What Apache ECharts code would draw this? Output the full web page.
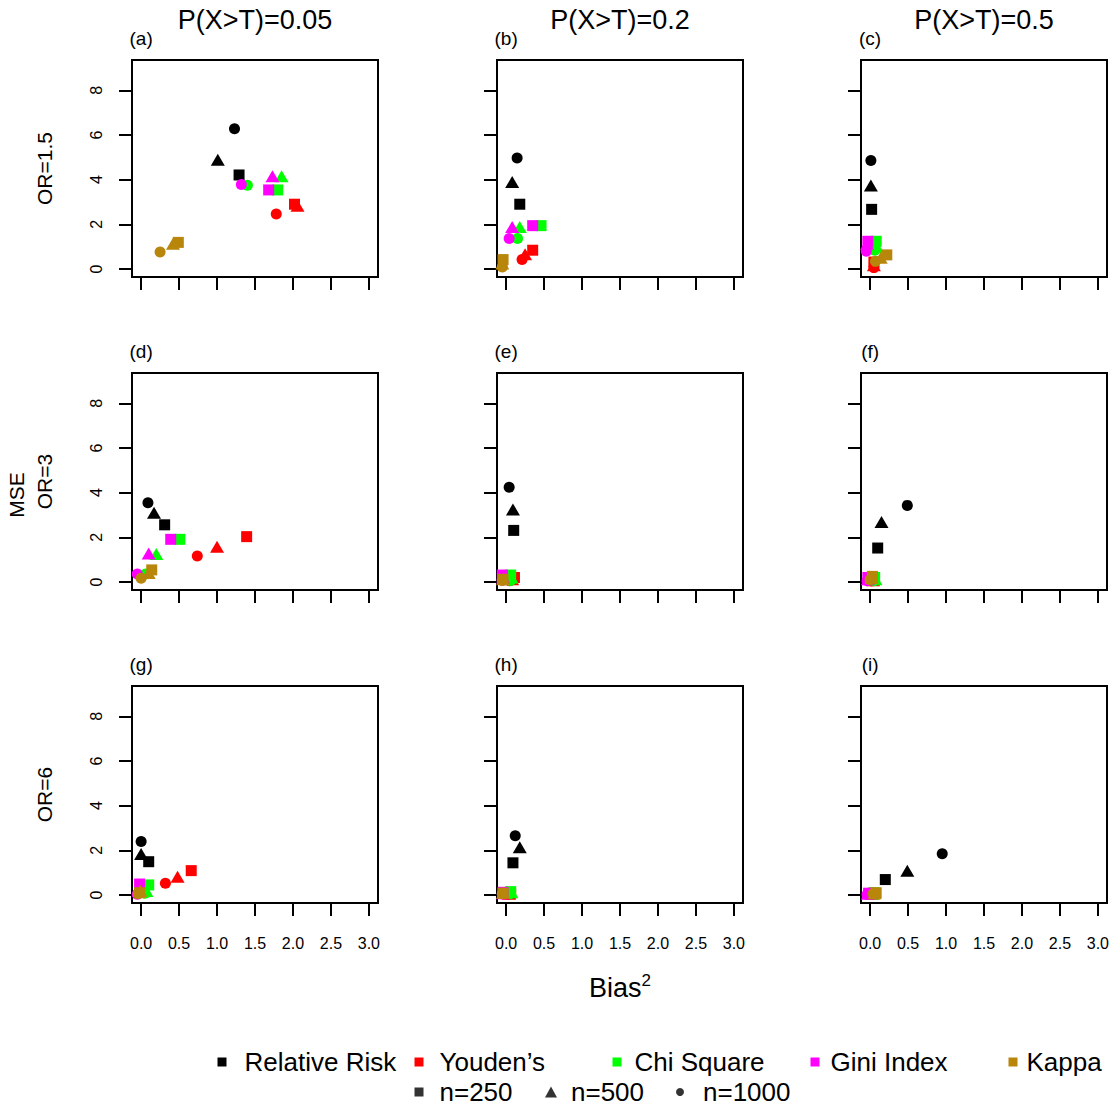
<!DOCTYPE html>
<html>
<head>
<meta charset="utf-8">
<script src="https://cdn.jsdelivr.net/npm/echarts@6/dist/echarts.min.js"></script>
<style>
  html, body { margin: 0; padding: 0; background: #fff; }
  #main { width: 1113px; height: 1108px; }
</style>
</head>
<body>
<div id="main"></div>
<script>
// labels
const colTitles = ['P(X>T)=0.05', 'P(X>T)=0.2', 'P(X>T)=0.5'];
const rowTitles = ['OR=1.5', 'OR=3', 'OR=6'];
const panelTags = ['(a)', '(b)', '(c)', '(d)', '(e)', '(f)', '(g)', '(h)', '(i)'];
const xTicks = [0, 0.5, 1, 1.5, 2, 2.5, 3];
const yTicks = [0, 2, 4, 6, 8];
const methods = ['Relative Risk', 'Youden\u2019s', 'Chi Square', 'Gini Index', 'Kappa'];
const sampleSizes = ['n=250', 'n=500', 'n=1000'];

// Bias^2 and MSE, one row per panel (a..i), each row = [n=250, n=500, n=1000]
const rrBias = [[1.29, 1.01, 1.23], [0.18, 0.08, 0.145], [0.02, 0.01, 0.01],
                [0.31, 0.17, 0.09], [0.10, 0.09, 0.04], [0.10, 0.15, 0.49],
                [0.10, 0.00, 0.00], [0.09, 0.18, 0.12], [0.20, 0.49, 0.95]];
const rrMse = [[4.21, 4.89, 6.28], [2.90, 3.89, 4.97], [2.67, 3.74, 4.86],
               [2.56, 3.10, 3.55], [2.31, 3.25, 4.24], [1.52, 2.69, 3.43],
               [1.49, 1.84, 2.39], [1.44, 2.14, 2.65], [0.69, 1.09, 1.85]];

const youdenBias = [[2.02, 2.06, 1.78], [0.35, 0.25, 0.21], [0.05, 0.05, 0.05],
                    [1.39, 1.00, 0.74], [0.11, 0.08, 0.05], [0.05, 0.04, 0.02],
                    [0.66, 0.48, 0.32], [0.06, 0.04, 0.02], [0.05, 0.03, 0.01]];
const youdenMse = [[2.90, 2.83, 2.46], [0.84, 0.66, 0.42], [0.31, 0.17, 0.06],
                   [2.03, 1.58, 1.16], [0.20, 0.12, 0.05], [0.12, 0.08, 0.04],
                   [1.09, 0.82, 0.52], [0.08, 0.05, 0.03], [0.08, 0.05, 0.03]];

const chiBias = [[1.80, 1.85, 1.40], [0.46, 0.18, 0.15], [0.08, 0.09, 0.06],
                 [0.51, 0.20, 0.06], [0.06, 0.07, 0.06], [0.06, 0.07, 0.05],
                 [0.10, 0.07, 0.05], [0.06, 0.07, 0.05], [0.05, 0.04, 0.03]];
const chiMse = [[3.54, 4.15, 3.75], [1.94, 1.88, 1.36], [1.24, 0.98, 0.84],
                [1.91, 1.25, 0.36], [0.31, 0.20, 0.07], [0.20, 0.12, 0.05],
                [0.45, 0.18, 0.08], [0.15, 0.12, 0.05], [0.10, 0.07, 0.04]];

const giniBias = [[1.68, 1.73, 1.32], [0.35, 0.08, 0.04], [-0.03, -0.04, -0.05],
                  [0.39, 0.10, -0.05], [-0.05, -0.04, -0.05], [-0.03, -0.03, -0.04],
                  [-0.02, -0.03, -0.05], [-0.04, -0.04, -0.05], [-0.02, -0.03, -0.04]];
const giniMse = [[3.54, 4.15, 3.78], [1.94, 1.88, 1.36], [1.24, 1.13, 0.79],
                 [1.91, 1.28, 0.36], [0.31, 0.20, 0.08], [0.20, 0.12, 0.05],
                 [0.49, 0.20, 0.03], [0.12, 0.08, 0.04], [0.08, 0.05, 0.02]];

const kappaBias = [[0.49, 0.42, 0.25], [-0.04, -0.05, -0.05], [0.22, 0.14, 0.07],
                   [0.14, 0.10, 0.00], [-0.04, -0.04, -0.05], [0.03, 0.02, 0.00],
                   [-0.02, -0.01, -0.04], [-0.04, -0.04, -0.05], [0.08, 0.06, 0.04]];
const kappaMse = [[1.19, 1.13, 0.76], [0.42, 0.24, 0.09], [0.63, 0.50, 0.34],
                  [0.54, 0.40, 0.17], [0.12, 0.12, 0.07], [0.25, 0.18, 0.10],
                  [0.10, 0.19, 0.05], [0.08, 0.10, 0.05], [0.10, 0.08, 0.05]];

const biasAll = [rrBias, youdenBias, chiBias, giniBias, kappaBias];
const mseAll = [rrMse, youdenMse, chiMse, giniMse, kappaMse];

const colors = ['#000000', '#FF0000', '#00FF00', '#FF00FF', '#B8860B'];
const symbols = ['rect', 'triangle', 'circle'];
const symbolSizes = [11, [14, 12], 11];

const FONT = 'Liberation Sans, Arial, Helvetica, sans-serif';
const colLeft = [132, 497, 861];
const rowTop = [60, 373, 686];
const boxW = 246, boxH = 217;

let myChart = echarts.init(document.getElementById('main'), null, { renderer: 'svg' });

let grids = [], xAxes = [], yAxes = [], series = [], graphics = [];
for (let p = 0; p < 9; p++) {
  let r = Math.floor(p / 3), c = p % 3;
  grids.push({
    left: colLeft[c], top: rowTop[r], width: boxW, height: boxH,
    show: true, borderColor: '#000', borderWidth: 2, backgroundColor: 'transparent'
  });
  xAxes.push({
    type: 'value', gridIndex: p, min: -0.12, max: 3.12,
    axisLine: { show: true, onZero: false, lineStyle: { color: '#000', width: 2 } },
    axisTick: { show: true, customValues: xTicks, length: 13, lineStyle: { color: '#000', width: 2 } },
    axisLabel: {
      show: r === 2, customValues: xTicks, margin: 32, fontSize: 16, color: '#000', fontFamily: FONT,
      formatter: v => Number(v).toFixed(1)
    },
    splitLine: { show: false }
  });
  yAxes.push({
    type: 'value', gridIndex: p, min: -0.36, max: 9.36,
    axisLine: { show: true, onZero: false, lineStyle: { color: '#000', width: 2 } },
    axisTick: { show: true, customValues: yTicks, length: 13, lineStyle: { color: '#000', width: 2 } },
    axisLabel: { show: c === 0, customValues: yTicks, rotate: 90, margin: 28, fontSize: 16, color: '#000', fontFamily: FONT },
    splitLine: { show: false }
  });
  for (let m = 0; m < methods.length; m++) {
    for (let s = 0; s < 3; s++) {
      series.push({
        type: 'scatter', name: methods[m], xAxisIndex: p, yAxisIndex: p,
        symbol: symbols[s], symbolSize: symbolSizes[s],
        itemStyle: { color: colors[m], opacity: 1 },
        data: [[biasAll[m][p][s], mseAll[m][p][s]]]
      });
    }
  }
  // panel tag, centred over x = 0
  graphics.push({
    type: 'text', x: colLeft[c] + boxW * 0.12 / 3.24, y: rowTop[r] - 22,
    style: { text: panelTags[p], font: '19px ' + FONT, fill: '#000', align: 'center', verticalAlign: 'middle' }
  });
}

// empty series just for the sample size legend
sampleSizes.forEach((n, i) => {
  series.push({ type: 'scatter', name: n, xAxisIndex: 0, yAxisIndex: 0, symbol: symbols[i], itemStyle: { color: '#000' }, data: [] });
});

colTitles.forEach((t, c) => {
  graphics.push({
    type: 'text', x: colLeft[c] + boxW / 2, y: 20,
    style: { text: t, font: '27px ' + FONT, fill: '#000', align: 'center', verticalAlign: 'middle' }
  });
});
rowTitles.forEach((t, r) => {
  graphics.push({
    type: 'text', x: 44, y: rowTop[r] + boxH / 2, rotation: Math.PI / 2,
    style: { text: t, font: '21px ' + FONT, fill: '#000', align: 'center', verticalAlign: 'middle' }
  });
});
graphics.push({
  type: 'text', x: 16, y: 495, rotation: Math.PI / 2,
  style: { text: 'MSE', font: '21px ' + FONT, fill: '#000', align: 'center', verticalAlign: 'middle' }
});
graphics.push({
  type: 'text', x: 620, y: 988,
  style: {
    text: '{b|Bias}{s|2}', align: 'center', verticalAlign: 'middle',
    rich: {
      b: { font: '27px ' + FONT, fill: '#000', lineHeight: 32 },
      s: { font: '17px ' + FONT, fill: '#000', verticalAlign: 'top', lineHeight: 18 }
    }
  }
});

// legends: one component per item so they sit where the original has them
const legendRow1 = [222, 419, 617, 815, 1013];
const row1Pad = [13, 11, 8, 6, 4];
const legendRow2 = [419, 551, 680];
const row2Size = [[9, 9], [12, 11], [8, 8]];
const row2Pad = [11, 9, 14];
let legends = [];
methods.forEach((m, i) => {
  legends.push({
    data: [m], left: legendRow1[i] - 4.5, top: 1047, padding: 0, selectedMode: false,
    icon: 'rect', itemWidth: 9, itemHeight: 9,
    textStyle: { fontSize: 26, fontFamily: FONT, color: '#000', lineHeight: 30, padding: [0, 0, 0, row1Pad[i]] }
  });
});
sampleSizes.forEach((n, i) => {
  legends.push({
    data: [n], left: legendRow2[i] - row2Size[i][0] / 2, top: 1077, padding: 0, selectedMode: false,
    icon: symbols[i], itemWidth: row2Size[i][0], itemHeight: row2Size[i][1],
    textStyle: { fontSize: 26, fontFamily: FONT, color: '#000', lineHeight: 30, padding: [0, 0, 0, row2Pad[i]] }
  });
});

myChart.setOption({
  animation: false,
  backgroundColor: '#fff',
  grid: grids,
  xAxis: xAxes,
  yAxis: yAxes,
  legend: legends,
  graphic: graphics,
  series: series
});
</script>
</body>
</html>
